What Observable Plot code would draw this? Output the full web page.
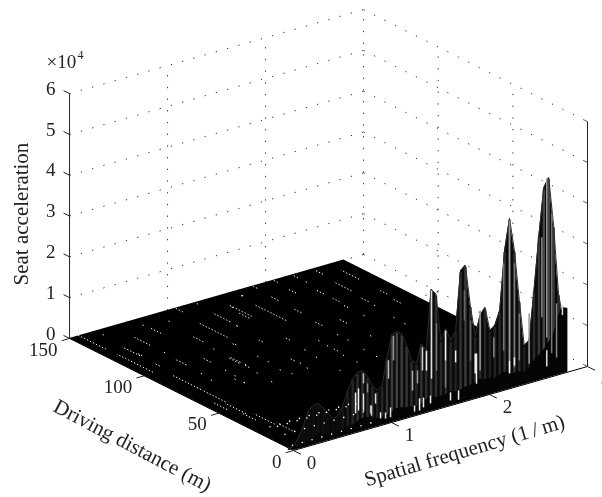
<!DOCTYPE html>
<html><head><meta charset="utf-8">
<style>html,body{margin:0;padding:0;background:#fff;overflow:hidden}svg{display:block;filter:blur(.3px)}</style>
<script src="https://cdn.jsdelivr.net/npm/d3@7"></script>
<script src="https://cdn.jsdelivr.net/npm/@observablehq/plot@0.6"></script>
</head><body>
<script>
// axis ticks
const zTicks=[0,1,2,3,4,5,6];
const dTicks=[0,50,100,150];
const fTicks=[0,1,2,3];
const floorDistances=[0,150];
// spatial frequency stations of the surface (1/m)
const freq=[0,.05,.1,.15,.2,.25,.3,.35,.4,.45,.5,.55,.6,.65,.7,.75,.8,.85,.9,.95,1,1.05,1.1,1.15,1.2,1.25,1.3,1.35,1.4,1.45,1.5,1.55,1.6,1.65,1.7,1.75,1.8,1.85,1.9,1.95,2,2.05,2.1,2.15,2.2,2.25,2.3,2.35,2.4,2.45,2.5,2.55,2.6,2.65,2.7,2.75,2.8];
// seat acceleration (x10^4) along the profile at d = 3 m
const rowMain=[0,.03,.2,.48,.79,.88,.89,.74,.58,.42,.46,.67,1,1.26,1.38,1.39,1.21,.96,.8,.89,1.54,2.07,2.11,2.02,1.7,1.3,1.19,1.64,1.44,2.9,2.75,1.58,1.84,1.51,1.72,3.15,3.25,2.23,1.46,1.92,2.08,1.48,1.57,1.9,3.34,4.09,3.27,2.01,.87,.96,2.15,3.47,4.6,4.82,3.6,1.9,1.2];
// seat acceleration (x10^4) along the profile at d = 0 m
const rowFront=[0,.02,.05,.1,.15,.2,.2,.18,.15,.12,.15,.2,.2,.25,.3,.3,.25,.2,.2,.2,.25,.3,.3,.25,.25,.2,.25,.3,.35,.3,.3,.3,.35,.3,.3,.35,.35,.4,.45,.4,.4,.35,.4,.45,.4,.35,.35,.3,.35,.5,.6,.7,.85,1,1.43,1.62,1.56];
// grey level of the mesh column at each station
const columnGrey=[10,11,12,14,15,16,16,15,14,12,12,20,28,36,46,50,42,38,34,38,52,60,64,60,52,42,38,50,45,52,48,42,45,38,34,52,60,45,34,42,38,30,34,38,52,62,52,42,30,30,42,56,70,70,56,45,38];
// light mesh columns seen through the spikes
const stripeF=[2.63,2.58,2.68,2.73,2.25,2.3,2.19,2.35,1.95,1.9,2.09,2.45,2.79,1.454,1.505,1.597,1.597,1.403,1.362,1.311,1.26,1.066,1.015,1.79,1.7,1.852,1.913,1.73,1.648,1.444,1.372,1.332,1.281,.883,.832,.934,.985,1.036,.679,.709,.76,.76,.801,.842,2.25,2.3,2.63];
const stripeLow=[.91,1.44,.49,.35,.6,.4,.89,.54,.57,.53,.79,.39,1.35,.71,.87,1.05,.39,.94,.97,.69,.55,1.42,1.01,1.9,.94,.88,.27,0,.04,.11,.06,.01,.02,.49,.28,.09,.05,.05,.39,.44,1.07,.4,.82,.22,.29,.45,.2];
const stripeHigh=[4.81,3.4,3.92,1.68,4.04,2.95,3.03,1.69,2.04,1.02,1.28,1.62,1.6,2.87,2.03,1.79,1.05,1.43,1.54,1.01,1.04,2.03,1.46,2.64,1.23,1.86,1.01,.23,.24,.3,.3,.31,.17,.74,.48,.24,.2,.29,.9,.98,1.31,.82,1.04,.47,.6,.65,.6];
const stripeShade=["#999","#888","#777","#888","#999","#777","#777","#777","#999","#eee","#888","#999","#ddd","#ddd","#777","#eee","#777","#eee","#ccc","#999","#aaa","#999","#bbb","#666","#eee","#666","#eee","#eee","#eee","#eee","#eee","#eee","#ddd","#ddd","#bbb","#eee","#ddd","#ddd","#eee","#eee","#bbb","#ddd","#888","#ccc","#fff","#eee","#ddd"];
// white moire dashes on the flat part of the mesh
const dashF=[2.65,2.45,2.48,2.27,2.08,2.27,2.23,2.06,1.85,1.87,1.68,1.64,1.43,1.84,2.23,2.42,2.64,2.61,2.21,2,1.81,1.41,1.21,.99,1.59,1.58,1.17,.78,.79,1.25,1.46,1.79,1.79,1.58,1.99,2.21,2.38,2.37,2.41,1.77,1.56,1.38,1.36,1.76,1.56,1.18,1.16,1.34,.96,.99,.99,.99,.77,.75,.59,.56,.435,.66,.825,1.04,1.26,1.47,1.67,1.28,1.08,.87,.65,.266,.097,.233,.104,.227,.247,.435,.415,.8,.61,.19,.4,.38,.6,.545,.805,.565,.8,1,1.25,.19,.17,.22,.15,.25,.1];
const dashD=[136,128,146,148,149,141,129,136,134,149,145,123,127,118,118,111,113,102,110,98,102,97,102,106,88,76,78,91,83,120,137,88,81,81,79,98,89,81,104,69,69,83,74,60,60,73,67,57,72,66,82,89,75,64,78,70,130,136,118,122,131,132,145,149,148,141,144,145,142,124,113,106,119,115,103,92,98,84,88,80,85,75,85,70,106,105,120,66,50,34,40,22,56];
const dashLen=[12,12,6,4,4,2,6,5,5,4,2,21,7,5,5,5,5,5,3,5,5,4,4,2,2,4,4,7,3,1,1,1,1,1,1,1,1,1,1,1,1,1,1,1,1,1,1,1,1,1,1,1,1,1,1,1,11,8,7,19,12,15,2,2,6,2,2,1,20,12,24,3,3,1,8,8,5,19,1,1,1,1,1,1,1,2,1,16,14,14,10,10,10];
// white dots of the low mesh near the origin
const dotF=[.05,.15,.25,.35,.45,.55,.65,.75,.85];
const dotD=[4,9,14,19];
const dotZ=[.02,.2,.3,.2];

// oblique view: floor origin, per-unit screen steps
const X=(f,d)=>293+98*f-1.493*d;
const Y=(f,d,z)=>450-28*f-.747*d-40.8*z;

const profile=(zs,d)=>freq.map((f,i)=>({f,d,z:zs[i]}));
const columns=freq.map((f,i)=>({f,z:rowMain[i],g:columnGrey[i]}));
const stripes=stripeF.map((f,i)=>({f,lo:stripeLow[i],hi:stripeHigh[i],c:stripeShade[i]}));
const dashes=dashF.map((f,i)=>({f,d:dashD[i],l:dashLen[i]}));
const dots=dotF.flatMap(f=>dotD.map((d,j)=>({f,d,z:dotZ[j]})));

const wallsH=[
  ...zTicks.map(z=>({f1:0,d1:150,f2:3,d2:150,z1:z,z2:z})),
  ...zTicks.map(z=>({f1:3,d1:150,f2:3,d2:0,z1:z,z2:z})),
  ...fTicks.slice(1).map(f=>({f1:f,d1:150,f2:f,d2:150,z1:0,z2:6})),
  ...dTicks.slice(1,3).map(d=>({f1:3,d1:d,f2:3,d2:d,z1:0,z2:6})),
  ...fTicks.slice(1,3).map(f=>({f1:f,d1:0,f2:f,d2:150,z1:0,z2:0})),
  ...dTicks.slice(1,3).map(d=>({f1:0,d1:d,f2:3,d2:d,z1:0,z2:0}))
];
const serif="Liberation Serif";
const ink="#222";
const label=(data,opts)=>Plot.text(data,{fontFamily:serif,fontSize:19,fill:ink,...opts});
const title=(data,opts)=>label(data,{fontSize:21,...opts});
const ribbon=(zs,d,fill)=>Plot.area(profile(zs,d),{x1:p=>X(p.f,p.d),y1:p=>Y(p.f,p.d,0),x2:p=>X(p.f,p.d),y2:p=>Y(p.f,p.d,p.z),fill});
const outline=(zs,d,stroke)=>Plot.line(profile(zs,d),{x:p=>X(p.f,p.d),y:p=>Y(p.f,p.d,p.z),stroke,strokeWidth:1});

const chart=Plot.plot({
  width:602,height:497,margin:0,
  x:{domain:[0,602],range:[0,602],axis:null},
  y:{domain:[0,497],range:[0,497],axis:null},
  color:{type:"identity"},
  marks:[
    // dotted walls and floor grid
    Plot.link(wallsH,{x1:g=>X(g.f1,g.d1),y1:g=>Y(g.f1,g.d1,g.z1),x2:g=>X(g.f2,g.d2),y2:g=>Y(g.f2,g.d2,g.z2),stroke:"#333",strokeWidth:1,strokeDasharray:"1.3 10.4"}),
    // flat mesh
    Plot.area(floorDistances,{x1:d=>X(0,d),y1:d=>Y(0,d,0),x2:d=>X(2.8,d),y2:d=>Y(2.8,d,0),fill:"#000"}),
    Plot.link(dashes,{x1:g=>X(g.f,g.d-g.l/2),y1:g=>Y(g.f,g.d-g.l/2,0),x2:g=>X(g.f,g.d+g.l/2),y2:g=>Y(g.f,g.d+g.l/2,0),stroke:"#fff",strokeWidth:1,strokeDasharray:"1.3 2"}),
    // spikes
    ribbon(rowMain,3,"#0a0a0a"),
    Plot.link(columns,{x1:s=>X(s.f,3),y1:s=>Y(s.f,3,0),x2:s=>X(s.f,3),y2:s=>Y(s.f,3,s.z-.04),stroke:s=>`rgb(${s.g},${s.g},${s.g})`,strokeWidth:2.4}),
    outline(rowMain,3,"#2a2a2a"),
    ribbon(rowFront,0,"#050505"),
    Plot.link(stripes,{x1:s=>X(s.f,3),y1:s=>Y(s.f,3,s.lo),x2:s=>X(s.f,3),y2:s=>Y(s.f,3,s.hi),stroke:s=>s.c,strokeWidth:1.5}),
    Plot.dot(dots,{x:p=>X(p.f,p.d),y:p=>Y(p.f,p.d,p.z),r:.8,fill:"#fff"}),
    // solid axes
    Plot.link([0],{x1:()=>X(0,150),y1:()=>Y(0,150,0),x2:()=>X(0,150),y2:()=>Y(0,150,6),stroke:ink,strokeWidth:1}),
    Plot.link([0],{x1:()=>X(3,0),y1:()=>Y(3,0,0),x2:()=>X(3,0),y2:()=>Y(3,0,6),stroke:ink,strokeWidth:1}),
    Plot.link([0],{x1:()=>X(0,0),y1:()=>Y(0,0,0),x2:()=>X(3,0),y2:()=>Y(3,0,0),stroke:"#000",strokeWidth:1}),
    Plot.link([0],{x1:()=>X(0,0),y1:()=>Y(0,0,0),x2:()=>X(0,150),y2:()=>Y(0,150,0),stroke:"#000",strokeWidth:1}),
    // ticks
    Plot.link(zTicks,{x1:z=>X(0,150),y1:z=>Y(0,150,z),x2:z=>X(0,154),y2:z=>Y(0,154,z),stroke:ink,strokeWidth:1}),
    Plot.link(zTicks,{x1:z=>X(3,0),y1:z=>Y(3,0,z),x2:z=>X(3,2),y2:z=>Y(3,2,z),stroke:"#555",strokeWidth:1}),
    Plot.link(dTicks,{x1:d=>X(0,d),y1:d=>Y(0,d,0),x2:d=>X(-.08,d),y2:d=>Y(-.08,d,0),stroke:ink,strokeWidth:1}),
    Plot.link(fTicks,{x1:f=>X(f,0),y1:f=>Y(f,0,0),x2:f=>X(f,-5),y2:f=>Y(f,-5,0),stroke:ink,strokeWidth:1}),
    // tick labels
    label(zTicks,{x:z=>X(0,150),y:z=>Y(0,150,z),text:z=>String(z),textAnchor:"end",dx:-14,dy:-5}),
    label(dTicks,{x:d=>X(0,d),y:d=>Y(0,d,0),text:d=>String(d),textAnchor:"end",dx:-12,dy:11}),
    label(fTicks,{x:f=>X(f,0),y:f=>Y(f,0,0),text:f=>String(f),dx:18,dy:12}),
    // exponent
    label([0],{x:()=>X(0,150),y:()=>Y(0,150,6),text:()=>"×10",textAnchor:"start",dx:-23,dy:-32}),
    label([0],{x:()=>X(0,150),y:()=>Y(0,150,6),text:()=>"4",textAnchor:"start",fontSize:12,dx:8,dy:-38}),
    // axis titles
    title([0],{x:()=>X(0,150),y:()=>Y(0,150,3),text:()=>"Seat acceleration",rotate:-90,dx:-48,dy:-2}),
    title([0],{x:()=>X(0,75),y:()=>Y(0,75,0),text:()=>"Driving distance (m)",rotate:27.7,dx:-49,dy:51}),
    title([0],{x:()=>X(1.5,0),y:()=>Y(1.5,0,0),text:()=>"Spatial frequency (1\u2009/\u2009m)",rotate:-16.5,dx:24,dy:42})
  ]
});
document.body.appendChild(chart);
</script>
</body></html>
